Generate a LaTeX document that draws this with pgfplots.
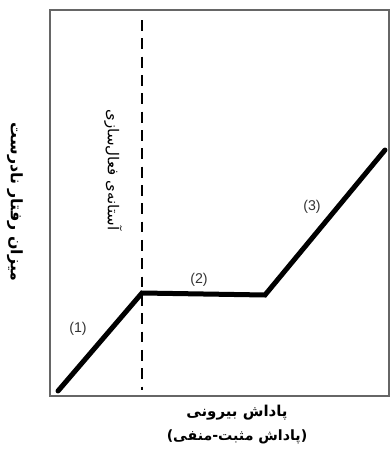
\documentclass[border=0pt]{standalone}
\usepackage{fontspec}
\setmainfont{Liberation Sans}
\newfontfamily\fa[Script=Arabic]{DejaVu Sans}
\TeXXeTstate=1
\usepackage{pgfplots}
\pgfplotsset{compat=1.18}

\begin{document}
\begin{tikzpicture}
\begin{axis}[
    scale only axis,
    width=203.4pt, height=231.6pt,
    xmin=50, xmax=389,
    ymin=62, ymax=448,
    axis line style={black!60, line width=1pt},
    ticks=none,
    clip=false,
]
% invisible frame = full picture extent (pixels, y flipped)
\path (axis cs:0,0) rectangle (axis cs:390,458);

% activation threshold
\addplot[black, line width=1.7pt, dash pattern=on 6.5pt off 4.5pt]
    coordinates {(142,438) (142,68)};

% response curve
\addplot[black, line width=3pt, line join=miter, line cap=round]
    coordinates {(58,67) (142,165) (265,163) (385,308)};

\node[font=\fontsize{8.5}{9}\selectfont, text=black!80] at (axis cs:78,129) {(1)};
\node[font=\fontsize{8.5}{9}\selectfont, text=black!80] at (axis cs:199,178) {(2)};
\node[font=\fontsize{8.5}{9}\selectfont, text=black!80] at (axis cs:312,251) {(3)};

\node[rotate=-90, font=\fa\fontsize{9}{10}\selectfont] at (axis cs:113,288)
    {\beginR آستانه‌ی فعال‌سازی\endR};

\node[rotate=-90, font=\fa\bfseries\fontsize{9.5}{10}\selectfont] at (axis cs:15,256)
    {\beginR میزان رفتار نادرست\endR};

\node[font=\fa\bfseries\fontsize{9}{10}\selectfont] at (axis cs:237,45)
    {\beginR پاداش بیرونی\endR};
\node[font=\fa\bfseries\fontsize{8.5}{10}\selectfont] at (axis cs:237,21)
    {\beginR (پاداش مثبت-منفی)\endR};
\end{axis}
\end{tikzpicture}
\end{document}
